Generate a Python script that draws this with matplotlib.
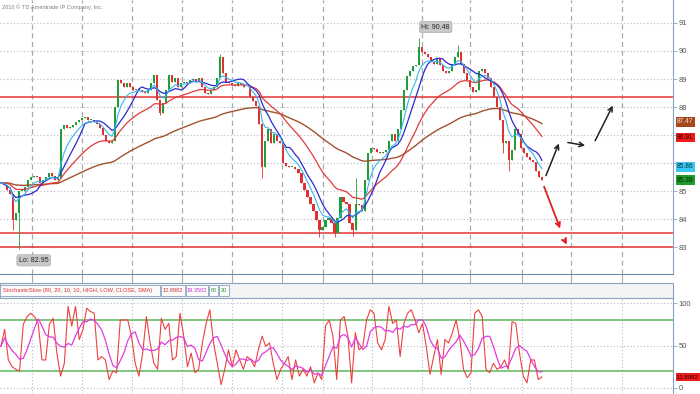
import numpy as np
import pandas as pd
import matplotlib
matplotlib.use("Agg")
import matplotlib.pyplot as plt
import matplotlib.transforms as mtransforms
from matplotlib.patches import Rectangle

# ---------------- data ----------------
close = [
    85.3, 85.2, 85.05, 84.9, 83.95, 84.2, 85.0, 85.0, 85.15, 85.4, 85.5, 85.55, 85.5, 85.3, 85.4, 85.5, 85.65, 85.55, 85.4, 85.45,
    87.2, 87.35, 87.25, 87.3, 87.35, 87.45, 87.55, 87.6, 87.65, 87.55, 87.55, 87.45, 87.4, 87.25, 87.0, 86.8, 86.7, 86.8,
    88.0, 88.95, 88.85, 88.7, 88.85, 88.7, 88.6, 88.65, 88.6, 88.55, 88.5, 88.6, 88.85, 89.15, 88.25, 87.8, 88.15, 88.6,
    89.15, 88.9, 89.05, 88.7, 88.85, 88.9, 88.85, 88.95, 89.0, 88.9, 89.05, 88.7, 88.5, 88.45, 88.6, 88.7,
    89.05, 89.8, 89.2, 88.9, 88.85, 88.8, 88.75, 88.85, 88.8, 88.7, 88.7, 88.35, 88.2, 88.05,
    87.4, 85.85, 86.8, 87.2, 86.7, 87.05, 86.8, 86.7, 86.0, 85.9, 85.85, 85.85, 85.8, 85.65,
    85.3, 85.05, 84.8, 84.55, 84.3, 83.95, 83.6, 83.7, 83.95, 84.05, 83.85, 83.5, 84.05, 84.8, 84.6, 84.55, 83.85, 83.6, 84.55, 84.5, 84.3,
    85.4, 86.35, 86.55, 86.5, 86.4, 86.35, 86.4, 86.45, 86.8, 87.05, 86.8, 87.2, 87.9, 88.6, 89.1,
    89.3, 89.45, 89.5, 90.15, 89.95, 89.9, 89.8, 89.6, 89.55, 89.7, 89.5, 89.3, 89.2, 89.3, 89.55, 89.8, 89.95,
    89.55, 89.2, 88.95, 88.7, 88.55, 88.6, 89.3, 89.35, 89.2, 89.05, 88.7, 88.35, 88.0, 87.55,
    86.7, 86.8, 86.1, 86.45, 87.2, 87.05, 86.55, 86.35, 86.2, 86.1, 86.05, 85.7, 85.5, 85.39,
]
wick_idx = [4, 6, 53, 73, 87, 106, 111, 117, 118, 139, 152, 167, 169]
wick_val = [83.6, 82.95, 87.7, 89.9, 85.45, 83.35, 83.35, 83.4, 85.45, 90.48, 90.2, 86.35, 85.7]

stoch_k = [
    49, 69, 33, 25, 22, 20, 75, 84, 88, 84, 76, 33, 33, 75, 82, 41, 14, 29, 96, 73, 96, 57, 69, 94, 90, 88,
    33, 37, 33, 10, 20, 18, 80, 80, 80, 61, 29, 14, 41, 84, 53, 29, 22, 82, 69, 76, 33, 37, 88, 61, 25, 41,
    18, 22, 53, 76, 92, 53, 29, 4, 22, 45, 25, 45, 33, 22, 37, 33, 25, 45, 61, 49, 53, 29, 10, 22, 29, 37,
    10, 33, 14, 22, 14, 25, 6, 18, 10, 73, 80, 61, 10, 80, 84, 61, 6, 65, 45, 49, 80, 92, 88, 53, 45, 57,
    96, 76, 80, 37, 76, 88, 92, 80, 65, 76, 49, 16, 37, 57, 16, 57, 53, 65, 80, 57, 22, 12, 18, 88, 92, 84,
    22, 18, 29, 22, 25, 33, 22, 78, 76, 41, 14, 6, 33, 33, 10, 13,
]

price_ticks = [83, 84, 85, 86, 87, 88, 89, 90, 91]
price_tick_labels = ["83", "84", "85", "", "", "88", "89", "90", "91"]
support_resistance = [88.36, 83.5, 83.0]
hi_label = "Hi: 90.48"
lo_label = "Lo: 82.95"
price_labels = [87.47, 86.91, 85.86, 85.39]
stoch_title = "StochasticSlow (80, 20, 10, 10, HIGH, LOW, CLOSE, SMA)"
stoch_labels = ["12.8982", "19.3502", "80", "20"]
stoch_last = 12.8982
# arrows: (x_start, price_start, x_end, price_end) in bar units
arrows_black = [(181.0, 85.46, 186.0, 86.79), (187.7, 86.75, 195.3, 86.61), (197.3, 86.71, 204.0, 88.14)]
arrows_red = [(180.4, 85.25, 186.4, 83.57), (187.0, 83.36, 188.7, 83.0)]

# ---------------- derived ----------------
c = np.array(close)
o = np.r_[c[0], c[:-1]]
hi = np.maximum(o, c)
lo = np.minimum(o, c)
for i, v in zip(wick_idx, wick_val):
    if v > hi[i]:
        hi[i] = v
    if v < lo[i]:
        lo[i] = v
N = len(c)
idx = np.arange(N)
s = pd.Series(c)
brown = s.ewm(span=75, adjust=False).mean()
red = s.ewm(span=24, adjust=False).mean()
cyan = s.ewm(span=6, adjust=False).mean()
blue = s.rolling(9, min_periods=1).mean()

K = pd.Series(stoch_k, dtype=float)
D = K.rolling(5, min_periods=1).mean()
kx = np.linspace(0, N - 1, len(K))

# ---------------- layout ----------------
W, H = 700, 394
fig = plt.figure(figsize=(7, 3.94), dpi=100)
fig.patch.set_facecolor("white")
PXB = 541.0 / (N - 1)
x0 = -0.3
x1 = x0 + 673.0 / PXB
grid_px = [32, 82, 132, 182, 232, 282, 323, 372, 422, 470, 522, 571, 622]
grid_x = [x0 + p / PXB for p in grid_px]

ax = fig.add_axes([0, 1 - 274 / H, 673 / W, 274 / H])
sx = fig.add_axes([0, 0, 673 / W, (H - 298) / H])

fam = ["Liberation Sans", "DejaVu Sans"]
axis_col = "#8aa2c0"
for a in (ax, sx):
    a.set_facecolor("white")
    for sp in ("left", "top"):
        a.spines[sp].set_visible(False)
    a.spines["right"].set_color(axis_col)
    a.spines["bottom"].set_color("#6b8cae")
    a.set_xlim(x0, x1)
    a.yaxis.tick_right()
    a.tick_params(axis="y", direction="out", length=3, width=0.6, color=axis_col,
                  labelsize=5.5, labelcolor="#555555", pad=1)
    a.set_xticks(grid_x)
    a.set_xticklabels([])
sx.spines["bottom"].set_visible(False)
sx.spines["top"].set_visible(False)

# main panel
ax.set_ylim(82.04, 91.82)
ax.set_yticks(price_ticks)
ax.set_yticklabels(price_tick_labels, family=fam)
ax.tick_params(axis="x", direction="out", length=7, width=0.8, color="#aaaaaa")
ax.grid(axis="y", linestyle=(0, (1, 2)), color="#b0b8c8", linewidth=0.8)
ax.grid(axis="x", linestyle=(0, (4, 3)), color="#a8a8a8", linewidth=0.9)
ax.set_axisbelow(True)

for v in support_resistance:
    ax.axhline(v, color="#e53535", lw=1.1, zorder=2)

ccol = np.where(c >= o, "#1f9e3a", "#e03030")
ax.vlines(idx, lo, hi, colors=ccol, lw=0.6, zorder=3)
ax.bar(idx, np.maximum(np.abs(c - o), 0.03), bottom=np.minimum(o, c), width=0.7,
       color=ccol, linewidth=0, zorder=3)

ax.plot(idx, brown, color="#a0522d", lw=1.0, zorder=4)
ax.plot(idx, red, color="#e23a3a", lw=0.9, zorder=4)
ax.plot(idx, blue, color="#2a2ad0", lw=0.9, zorder=4)
ax.plot(idx, cyan, color="#35b8ee", lw=0.8, zorder=4)

for (a0, p0, a1, p1) in arrows_black:
    ax.annotate("", xy=(a1, p1), xytext=(a0, p0),
                arrowprops=dict(arrowstyle="->", color="#222222", lw=1.1, mutation_scale=8), zorder=5)
for (a0, p0, a1, p1) in arrows_red:
    ax.annotate("", xy=(a1, p1), xytext=(a0, p0),
                arrowprops=dict(arrowstyle="->", color="#e02020", lw=1.3, mutation_scale=8), zorder=5)

i_hi = int(np.argmax(hi))
i_lo = int(np.argmin(lo))
ax.annotate(hi_label, xy=(i_hi, hi[i_hi]), xytext=(2, 5), textcoords="offset points",
            ha="left", va="bottom", fontsize=5, family=fam, color="#222222",
            bbox=dict(boxstyle="round,pad=0.3", fc="#c8c8c8", ec="#b0b0b0", lw=0.5), zorder=6)
ax.annotate(lo_label, xy=(i_lo, lo[i_lo]), xytext=(0, -6), textcoords="offset points",
            ha="left", va="top", fontsize=5, family=fam, color="#222222",
            bbox=dict(boxstyle="round,pad=0.3", fc="#c8c8c8", ec="#b0b0b0", lw=0.5), zorder=6)

trans = mtransforms.blended_transform_factory(ax.transAxes, ax.transData)
lab_cols = [("#a3461c", "#f3dcd0"), ("#ee1b1b", "#3a0000"), ("#3cc8f5", "#08303c"), ("#1e9a2a", "#042404")]
for v, (fc, tc) in zip(price_labels, lab_cols):
    ax.text(1.006, v, f"{v:.2f}", transform=trans, ha="left", va="center", fontsize=4.8,
            family=fam, color=tc, bbox=dict(boxstyle="square,pad=0.2", fc=fc, ec="none"),
            zorder=7, clip_on=False)

# copyright
fig.text(2 / W, 1 - 7 / H, "2010 \u00a9 TD Ameritrade IP Company, Inc.", fontsize=4.1,
         family=fam, color="#808080", ha="left", va="center")

# header bar of stochastic
fig.patches.append(Rectangle((0, 1 - 298 / H), 673 / W, 15 / H, transform=fig.transFigure,
                             fc="#f3f3f3", ec=axis_col, lw=0.8))
hdr_boxes = [(0, 160), (161, 185), (186, 208), (209, 218), (219, 229)]
hdr_texts = [stoch_title] + stoch_labels
hdr_cols = ["#e03030", "#d03030", "#d030d0", "#30a030", "#30a030"]
for k, ((b0, b1), t, col) in enumerate(zip(hdr_boxes, hdr_texts, hdr_cols)):
    fig.patches.append(Rectangle((b0 / W, 1 - 296 / H), (b1 - b0) / W, 11 / H,
                                 transform=fig.transFigure, fc="#fafafa", ec=axis_col, lw=0.6))
    if k == 0:
        fig.text((b0 + 3) / W, 1 - 290.5 / H, t, fontsize=4.1, family=fam, color=col,
                 ha="left", va="center")
    else:
        fig.text((b0 + b1) / 2 / W, 1 - 290.5 / H, t, fontsize=4.1, family=fam, color=col,
                 ha="center", va="center")

# stochastic panel
sx.set_ylim(-7.06, 105.9)
sx.set_yticks([0, 50, 100])
sx.set_yticklabels(["0", "50", "100"], family=fam)
sx.tick_params(axis="x", length=0)
sx.grid(axis="both", linestyle=(0, (1, 2)), color="#b0b8c8", linewidth=0.8)
sx.set_axisbelow(True)
sx.axhline(80, color="#5cb85c", lw=1.1)
sx.axhline(20, color="#5cb85c", lw=1.1)
sx.plot(kx, K, color="#ef4040", lw=0.8, zorder=3)
sx.plot(kx, D, color="#e03ce0", lw=0.9, zorder=3)
strans = mtransforms.blended_transform_factory(sx.transAxes, sx.transData)
sx.text(1.006, stoch_last, f"{stoch_last:.4f}", transform=strans, ha="left", va="center",
        fontsize=4.3, family=fam, color="#3a0000",
        bbox=dict(boxstyle="square,pad=0.2", fc="#ee1b1b", ec="none"), clip_on=False)

fig.savefig("out.png", dpi=100)
